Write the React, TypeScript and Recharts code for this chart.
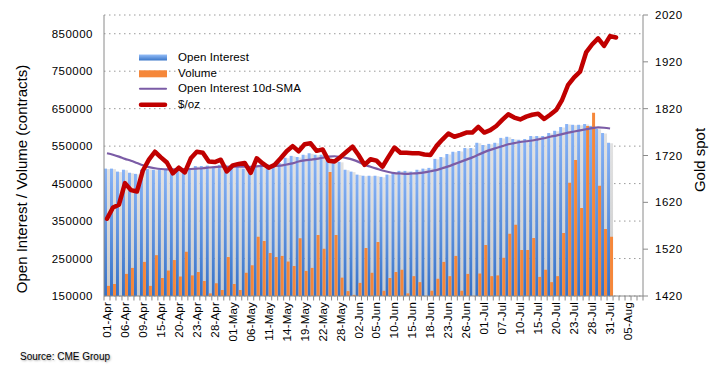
import React from 'react';
import { ComposedChart, Bar, Line, XAxis, YAxis, CartesianGrid, Legend } from 'recharts';

// ---- data ----
const dates = [
  '01-Apr', '02-Apr', '03-Apr', '06-Apr', '07-Apr', '08-Apr', '09-Apr', '13-Apr', '14-Apr', '15-Apr',
  '16-Apr', '17-Apr', '20-Apr', '21-Apr', '22-Apr', '23-Apr', '24-Apr', '27-Apr', '28-Apr', '29-Apr',
  '30-Apr', '01-May', '04-May', '05-May', '06-May', '07-May', '08-May', '11-May', '12-May', '13-May',
  '14-May', '15-May', '18-May', '19-May', '20-May', '21-May', '22-May', '26-May', '27-May', '28-May',
  '29-May', '01-Jun', '02-Jun', '03-Jun', '04-Jun', '05-Jun', '08-Jun', '09-Jun', '10-Jun', '11-Jun',
  '12-Jun', '15-Jun', '16-Jun', '17-Jun', '18-Jun', '19-Jun', '22-Jun', '23-Jun', '24-Jun', '25-Jun',
  '26-Jun', '29-Jun', '30-Jun', '01-Jul', '02-Jul', '06-Jul', '07-Jul', '08-Jul', '09-Jul', '10-Jul',
  '13-Jul', '14-Jul', '15-Jul', '16-Jul', '17-Jul', '20-Jul', '21-Jul', '22-Jul', '23-Jul', '24-Jul',
  '27-Jul', '28-Jul', '29-Jul', '30-Jul', '31-Jul', '03-Aug', '04-Aug', '05-Aug', '06-Aug', '07-Aug',
];

const openInterest = [
  490000, 490000, 482000, 487000, 479000, 476000, 487000, 489000, 487000, 487000,
  487000, 487000, 489000, 487000, 491000, 497000, 497000, 498000, 496000, 500000,
  500000, 498000, 494000, 490000, 490000, 500000, 504000, 502000, 500000, 505000,
  519000, 524000, 521000, 527000, 531000, 527000, 527000, 520000, 508000, 508000,
  487000, 482000, 474000, 471000, 471000, 471000, 468000, 474000, 479000, 484000,
  484000, 482000, 487000, 490000, 492000, 516000, 521000, 529000, 535000, 537000,
  545000, 545000, 559000, 553000, 556000, 559000, 572000, 575000, 569000, 567000,
  569000, 577000, 577000, 577000, 585000, 591000, 601000, 609000, 607000, 607000,
  609000, 604000, 596000, 585000, 559000,
];

const volume = [
  177000, 182000, 150000, 209000, 225000, 150000, 241000, 177000, 259000, 198000,
  218000, 246000, 202000, 268000, 205000, 214000, 190000, 157000, 184000, 166000,
  254000, 182000, 166000, 212000, 232000, 308000, 297000, 265000, 254000, 257000,
  242000, 230000, 304000, 217000, 225000, 313000, 276000, 481000, 313000, 199000,
  163000, 153000, 185000, 278000, 212000, 294000, 164000, 198000, 214000, 220000,
  157000, 203000, 187000, 150000, 164000, 196000, 241000, 203000, 257000, 164000,
  209000, 150000, 210000, 286000, 203000, 205000, 252000, 316000, 340000, 273000,
  273000, 305000, 201000, 220000, 187000, 203000, 318000, 452000, 513000, 385000,
  604000, 639000, 444000, 329000, 308000,
];

const oiSma10d = [
  531000, 527000, 522000, 516000, 511000, 505000, 499000, 494000, 491000, 489000,
  488000, 488000, 488000, 488000, 489000, 490000, 491000, 493000, 494000, 495000,
  495000, 495000, 495000, 495000, 495000, 496000, 497000, 497000, 497000, 498000,
  501000, 504000, 509000, 512000, 514000, 516000, 519000, 522000, 523000, 521000,
  518000, 514000, 508000, 500000, 495000, 490000, 485000, 481000, 478000, 477000,
  476000, 477000, 478000, 480000, 483000, 486000, 491000, 496000, 502000, 508000,
  514000, 520000, 527000, 534000, 540000, 545000, 550000, 555000, 558000, 561000,
  563000, 565000, 568000, 571000, 575000, 578000, 582000, 586000, 589000, 592000,
  595000, 598000, 600000, 599000, 597000,
];

const goldSpot = [
  1585, 1609, 1615, 1661, 1646, 1643, 1688, 1711, 1728, 1716,
  1705, 1682, 1694, 1684, 1714, 1728, 1726, 1707, 1706, 1711,
  1686, 1699, 1702, 1704, 1683, 1714, 1703, 1694, 1700, 1714,
  1729, 1740, 1729, 1744, 1746, 1730, 1733, 1709, 1707, 1717,
  1728, 1739, 1721, 1700, 1712, 1709, 1696, 1717, 1737, 1726,
  1726, 1725, 1725, 1722, 1721, 1740, 1754, 1767, 1760, 1764,
  1769, 1769, 1781, 1769, 1774, 1783, 1796, 1808, 1801, 1797,
  1803, 1807, 1809, 1798, 1807, 1817, 1839, 1871, 1887, 1899,
  1940, 1957, 1970, 1954, 1975, 1972,
];

const leftTicks = [150000, 250000, 350000, 450000, 550000, 650000, 750000, 850000];
const rightTicks = [1420, 1520, 1620, 1720, 1820, 1920, 2020];
const seriesNames = ['Open Interest', 'Volume', 'Open Interest 10d-SMA', '$/oz'];
const sourceText = 'Source: CME Group';

const data = dates.map((d, i) => ({
  date: d,
  oi: openInterest[i] ?? null,
  vol: volume[i] ?? null,
  sma: oiSma10d[i] ?? null,
  gold: goldSpot[i] ?? null,
}));

// ---- layout / style ----
const W = 719;
const H = 374;
const MARGIN = { top: 15, right: 16, bottom: 38, left: 24 };
const LEFT_AXIS_W = 80;
const RIGHT_AXIS_W = 60;
const PLOT_W = W - MARGIN.left - MARGIN.right - LEFT_AXIS_W - RIGHT_AXIS_W;
const BAR_SIZE = PLOT_W / dates.length / 2 - 0.01;

const FONT = '"Liberation Sans", Arial, Helvetica, sans-serif';
const AXIS = '#8a8a8a';
const ORANGE = '#F5873A';
const PURPLE = '#7B5CA6';
const RED = '#C00000';

const OIBar = (props: any) => {
  const { x, y, width, height } = props;
  if (!height || height <= 0) return null;
  return (
    <g>
      <rect x={x + width} y={y + 0.5} width={width} height={height - 0.5} fill="url(#oiShadow)" />
      <rect x={x} y={y} width={width} height={height} fill="url(#oiGrad)" />
    </g>
  );
};

const XTick = (props: any) => {
  const { x, y, payload, index } = props;
  const i = typeof index === 'number' ? index : payload?.index ?? 0;
  const half = typeof payload?.offset === 'number' ? payload.offset : PLOT_W / dates.length / 2;
  const label = i % 3 === 0 ? String(payload.value) : '';
  return (
    <g>
      <line x1={x - half} y1={y} x2={x - half} y2={y + 4.5} stroke={AXIS} strokeWidth={1} />
      {i === dates.length - 1 && (
        <line x1={x + half} y1={y} x2={x + half} y2={y + 4.5} stroke={AXIS} strokeWidth={1} />
      )}
      {label && (
        <text
          transform={`translate(${x},${y + 6}) rotate(-90)`}
          textAnchor="end"
          dominantBaseline="central"
          fontSize={11.5}
          letterSpacing={0.2}
          fontFamily={FONT}
          fill="#000"
        >
          {label}
        </text>
      )}
    </g>
  );
};

const Swatch = ({ kind }: { kind: number }) => (
  <svg width={28} height={15.5} style={{ display: 'block', overflow: 'visible' }}>
    <defs>
      <linearGradient id="legOi" x1="0" y1="0" x2="0" y2="1">
        <stop offset="0%" stopColor="#95BEF8" />
        <stop offset="100%" stopColor="#3A76C8" />
      </linearGradient>
    </defs>
    {kind === 0 && <rect x={0} y={4.5} width={28} height={6} fill="url(#legOi)" />}
    {kind === 1 && <rect x={0} y={4.3} width={28} height={7} fill={ORANGE} />}
    {kind === 2 && <line x1={1} y1={7.75} x2={27} y2={7.75} stroke={PURPLE} strokeWidth={2.2} strokeLinecap="round" />}
    {kind === 3 && <line x1={2} y1={7.75} x2={26} y2={7.75} stroke={RED} strokeWidth={4.5} strokeLinecap="round" />}
  </svg>
);

const LegendBox = () => (
  <div style={{ fontFamily: FONT, fontSize: 11.5, letterSpacing: 0.1, color: '#000' }}>
    {seriesNames.map((name, k) => (
      <div key={name} style={{ display: 'flex', alignItems: 'center', height: 15.5 }}>
        <Swatch kind={k} />
        <span style={{ marginLeft: 11, whiteSpace: 'nowrap', lineHeight: '15.5px' }}>{name}</span>
      </div>
    ))}
  </div>
);

const tickStyle = { fontSize: 11.5, fontFamily: FONT, fill: '#000', letterSpacing: 0.5 };

export default function App() {
  return (
    <div style={{ position: 'absolute', left: 0, top: 0, width: W, height: H, background: '#fff' }}>
      <ComposedChart
        width={W}
        height={H}
        data={data}
        margin={MARGIN}
        barGap={0}
        barCategoryGap={0}
      >
        <defs>
          <linearGradient id="oiGrad" x1="0" y1="0" x2="0" y2="1">
            <stop offset="0%" stopColor="#88B3F6" />
            <stop offset="100%" stopColor="#3571C6" />
          </linearGradient>
          <linearGradient id="oiShadow" x1="0" y1="0" x2="0" y2="1">
            <stop offset="0%" stopColor="#E2E2E2" />
            <stop offset="100%" stopColor="#CACACA" />
          </linearGradient>
        </defs>
        <CartesianGrid
          yAxisId="left"
          vertical={false}
          stroke="#9a9a9a"
          strokeDasharray="1.5 3.5"
        />
        <XAxis
          dataKey="date"
          interval={0}
          tickLine={false}
          tickSize={0}
          tickMargin={0}
          height={40}
          axisLine={{ stroke: AXIS }}
          tick={(p: any) => <XTick {...p} />}
        />
        <YAxis
          yAxisId="left"
          orientation="left"
          width={LEFT_AXIS_W}
          domain={[150000, 900000]}
          ticks={leftTicks}
          interval={0}
          allowDataOverflow
          axisLine={{ stroke: AXIS }}
          tickLine={false}
          tickSize={6}
          tickMargin={5}
          tick={tickStyle}
          label={() => (
            <text
              x={21}
              y={179}
              transform="rotate(-90 21 179)"
              textAnchor="middle"
              dominantBaseline="central"
              fontSize={15}
              fontFamily={FONT}
              fill="#000"
            >
              Open Interest / Volume (contracts)
            </text>
          )}
        />
        <YAxis
          yAxisId="right"
          orientation="right"
          width={RIGHT_AXIS_W}
          domain={[1420, 2020]}
          ticks={rightTicks}
          interval={0}
          allowDataOverflow
          axisLine={{ stroke: AXIS }}
          tickLine={{ stroke: AXIS }}
          tickSize={5}
          tickMargin={7}
          tick={tickStyle}
          label={() => (
            <text
              x={699}
              y={160}
              transform="rotate(-90 699 160)"
              textAnchor="middle"
              dominantBaseline="central"
              fontSize={15}
              fontFamily={FONT}
              fill="#000"
            >
              Gold spot
            </text>
          )}
        />
        <Legend
          layout="vertical"
          align="center"
          verticalAlign="middle"
          wrapperStyle={{ left: 139, top: 50, width: 220 }}
          content={() => <LegendBox />}
        />
        <Bar
          yAxisId="left"
          dataKey="oi"
          name={seriesNames[0]}
          barSize={BAR_SIZE}
          shape={(p: any) => <OIBar {...p} />}
          isAnimationActive={false}
        />
        <Bar
          yAxisId="left"
          dataKey="vol"
          name={seriesNames[1]}
          barSize={BAR_SIZE}
          fill={ORANGE}
          isAnimationActive={false}
        />
        <Line
          yAxisId="left"
          type="monotone"
          dataKey="sma"
          name={seriesNames[2]}
          stroke={PURPLE}
          strokeWidth={2.2}
          dot={false}
          activeDot={false}
          isAnimationActive={false}
        />
        <Line
          yAxisId="right"
          type="linear"
          dataKey="gold"
          name={seriesNames[3]}
          stroke={RED}
          strokeWidth={4.5}
          strokeLinejoin="round"
          strokeLinecap="round"
          dot={false}
          activeDot={false}
          isAnimationActive={false}
        />
      </ComposedChart>
      <div
        style={{
          position: 'absolute',
          left: 20,
          top: 351,
          fontFamily: FONT,
          fontSize: 10,
          lineHeight: '12px',
          color: '#000',
          textShadow: '1px 1px 2px rgba(0,0,0,0.35)',
          whiteSpace: 'nowrap',
        }}
      >
        {sourceText}
      </div>
    </div>
  );
}
